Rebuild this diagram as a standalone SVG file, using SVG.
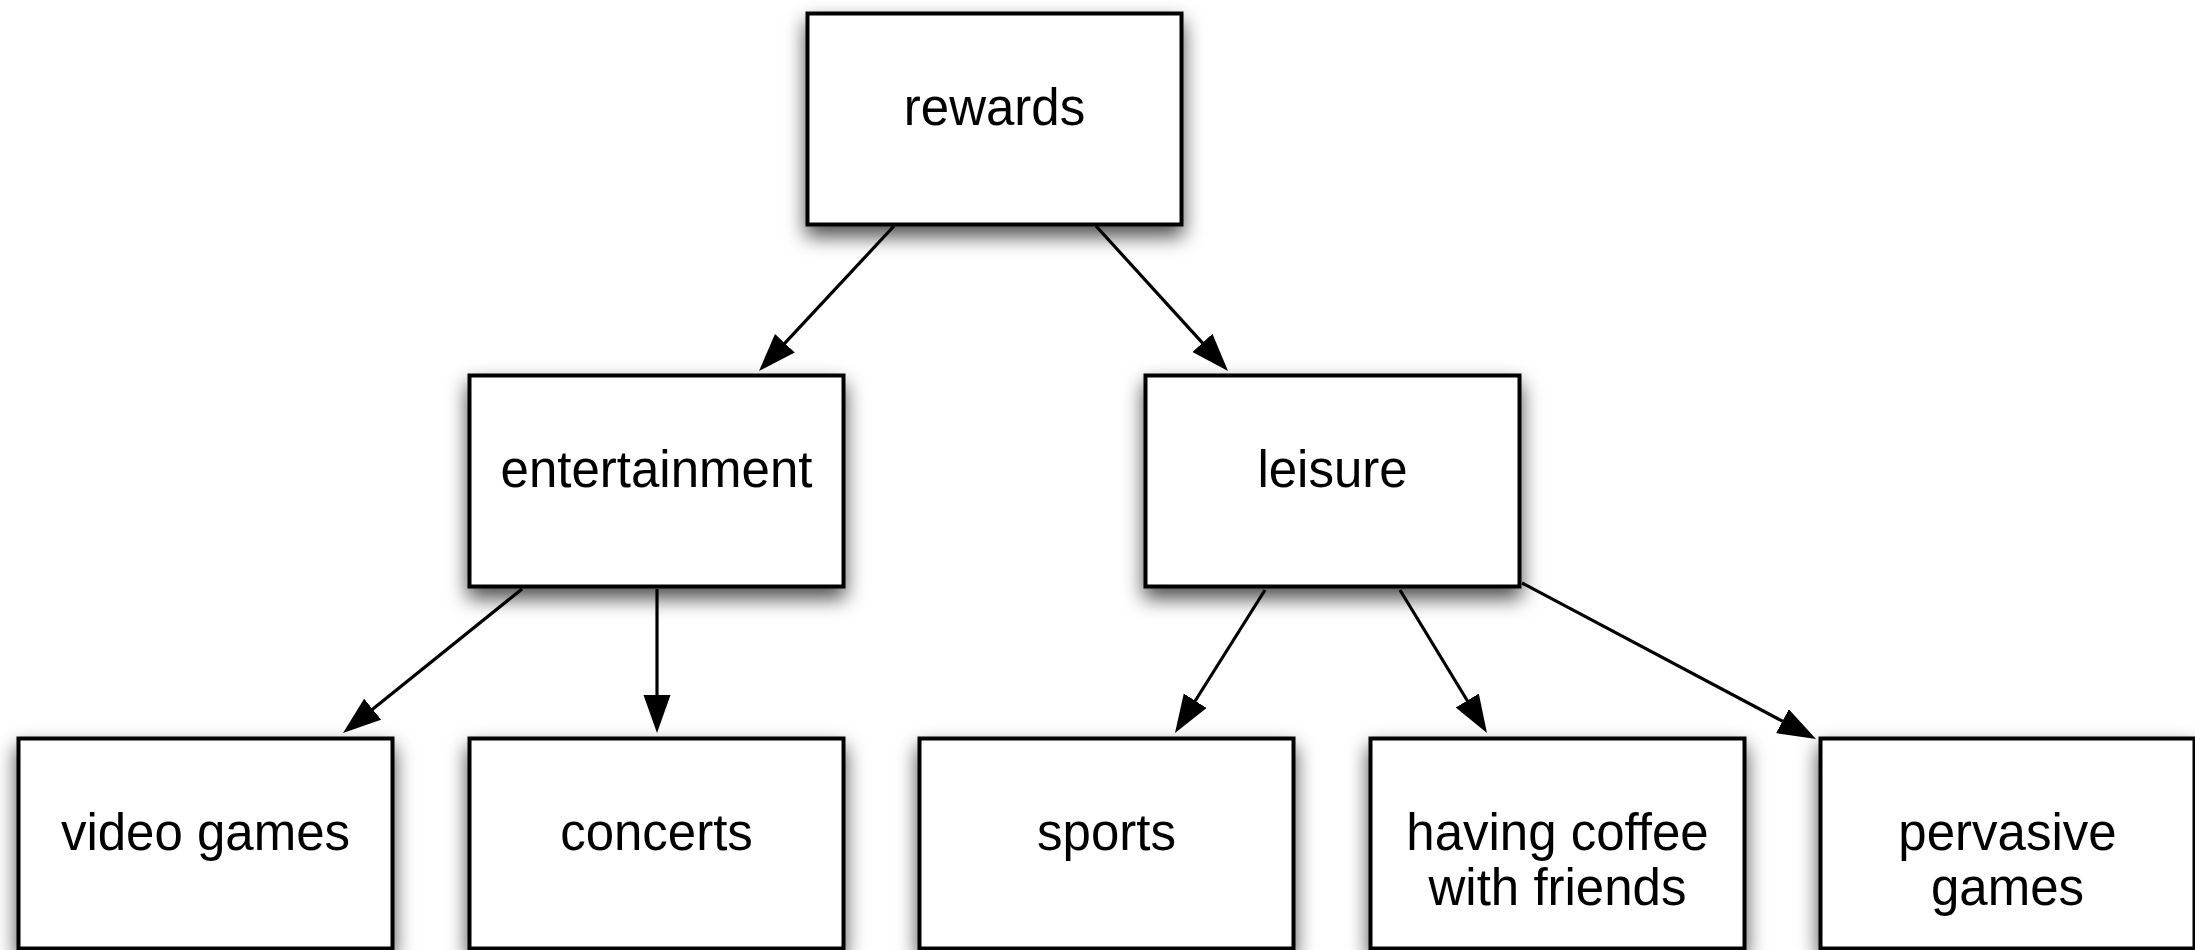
<svg xmlns="http://www.w3.org/2000/svg" width="2195" height="950" viewBox="0 0 2195 950">
  <style>
    .box { fill: #ffffff; stroke: #000000; stroke-width: 4; filter: url(#shadow); }
    .label { font-family: "Liberation Sans", Arial, sans-serif; font-size: 51px; fill: #000000; text-anchor: middle; }
    .conn { stroke: #000000; stroke-width: 3.2; fill: none; marker-end: url(#arrow); }
  </style>
  <defs>
    <filter id="shadow" x="-20%" y="-20%" width="140%" height="160%">
      <feDropShadow dx="0" dy="10" stdDeviation="10" flood-color="#000000" flood-opacity="0.7"/>
    </filter>
    <marker id="arrow" markerUnits="userSpaceOnUse" markerWidth="40" markerHeight="28" refX="28" refY="13.5" orient="auto" viewBox="0 0 40 28">
      <path d="M0,0 L38,13.5 L0,27 Z" fill="#000000"/>
    </marker>
  </defs>
  <rect width="2195" height="950" fill="#ffffff"/>

  <g id="rewards">
    <rect class="box" x="807.5" y="13.5" width="374" height="211"/>
    <text class="label" x="994.5" y="125">rewards</text>
  </g>
  <g id="entertainment">
    <rect class="box" x="469.5" y="375.5" width="374" height="211"/>
    <text class="label" x="656.5" y="487">entertainment</text>
  </g>
  <g id="leisure">
    <rect class="box" x="1145.5" y="375.5" width="374" height="211"/>
    <text class="label" x="1332.5" y="487">leisure</text>
  </g>
  <g id="video-games">
    <rect class="box" x="18.5" y="738.5" width="374" height="210"/>
    <text class="label" x="205.5" y="850">video games</text>
  </g>
  <g id="concerts">
    <rect class="box" x="469.5" y="738.5" width="374" height="210"/>
    <text class="label" x="656.5" y="850">concerts</text>
  </g>
  <g id="sports">
    <rect class="box" x="919.5" y="738.5" width="374" height="210"/>
    <text class="label" x="1106.5" y="850">sports</text>
  </g>
  <g id="having-coffee">
    <rect class="box" x="1370.5" y="738.5" width="374" height="210"/>
    <text class="label" x="1557.5" y="850">having coffee</text>
    <text class="label" x="1557.5" y="905">with friends</text>
  </g>
  <g id="pervasive-games">
    <rect class="box" x="1820.5" y="738.5" width="374" height="210"/>
    <text class="label" x="2007.5" y="850">pervasive</text>
    <text class="label" x="2007.5" y="905">games</text>
  </g>

  <g id="connectors">
    <line class="conn" x1="894" y1="226" x2="765.8" y2="363.7"/>
    <line class="conn" x1="1096" y1="226" x2="1221.3" y2="363.6"/>
    <line class="conn" x1="522" y1="589" x2="350.8" y2="726.7"/>
    <line class="conn" x1="657" y1="589" x2="657" y2="723"/>
    <line class="conn" x1="1265" y1="590" x2="1180.3" y2="724.5"/>
    <line class="conn" x1="1400" y1="590" x2="1481.8" y2="724.5"/>
    <line class="conn" x1="1522" y1="583" x2="1807.2" y2="734.3"/>
  </g>
</svg>
